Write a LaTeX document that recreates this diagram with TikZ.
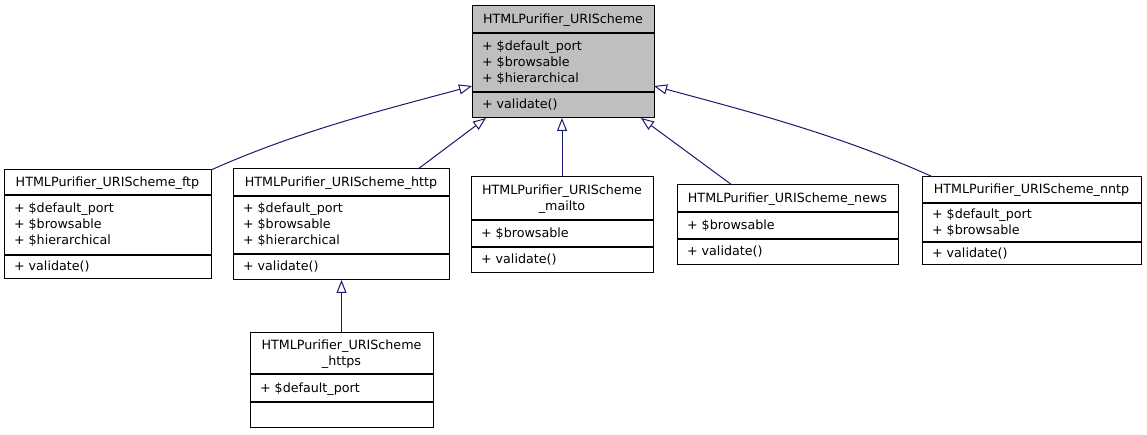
\documentclass[tikz,border=0pt]{standalone}
\usepackage{fontspec}
\setmainfont{DejaVu Sans}
\usetikzlibrary{arrows.meta}
\definecolor{edgeblue}{HTML}{191970}
\definecolor{basegray}{HTML}{BFBFBF}
\tikzset{
  classbox/.style={draw=black, line width=1pt, inner sep=0pt, outer sep=0pt, anchor=north west, fill=white},
  divider/.style={draw=black, line width=1.5pt},
  txt/.style={inner sep=0pt, outer sep=0pt, font=\fontsize{12.7pt}{16pt}\selectfont, text=black},
  inherit/.style={draw=edgeblue, line width=1pt, -{Triangle[fill=white, length=13pt, width=10pt]}},
}
\begin{document}
\begin{tikzpicture}[x=1pt, y=-1pt]
\useasboundingbox (0,0) rectangle (1147,435);

% base class
\node[classbox, fill=basegray, minimum width=182pt, minimum height=112pt] (base) at (472,6) {};
\draw[divider] ([yshift=-27pt]base.north west) -- ([yshift=-27pt]base.north east);
\draw[divider] ([yshift=-86pt]base.north west) -- ([yshift=-86pt]base.north east);
\node[txt, anchor=base] (base-t) at ([yshift=-18pt]base.north) {HTMLPurifier\_URIScheme};
\node[txt, anchor=base west] (base-a1) at ([xshift=10pt,yshift=-45pt]base.north west) {+ \$default\_port};
\node[txt, anchor=base west] (base-a2) at ([xshift=10pt,yshift=-61pt]base.north west) {+ \$browsable};
\node[txt, anchor=base west] (base-a3) at ([xshift=10pt,yshift=-77pt]base.north west) {+ \$hierarchical};
\node[txt, anchor=base west] (base-m1) at ([xshift=10pt,yshift=-103pt]base.north west) {+ validate()};

% ftp
\node[classbox, minimum width=207pt, minimum height=109pt] (ftp) at (4,170) {};
\draw[divider] ([yshift=-25pt]ftp.north west) -- ([yshift=-25pt]ftp.north east);
\draw[divider] ([yshift=-85pt]ftp.north west) -- ([yshift=-85pt]ftp.north east);
\node[txt, anchor=base] (ftp-t) at ([yshift=-17pt]ftp.north) {HTMLPurifier\_URIScheme\_ftp};
\node[txt, anchor=base west] (ftp-a1) at ([xshift=10pt,yshift=-43pt]ftp.north west) {+ \$default\_port};
\node[txt, anchor=base west] (ftp-a2) at ([xshift=10pt,yshift=-59pt]ftp.north west) {+ \$browsable};
\node[txt, anchor=base west] (ftp-a3) at ([xshift=10pt,yshift=-75pt]ftp.north west) {+ \$hierarchical};
\node[txt, anchor=base west] (ftp-m1) at ([xshift=10pt,yshift=-101pt]ftp.north west) {+ validate()};

% http
\node[classbox, minimum width=216pt, minimum height=111pt] (http) at (233,169) {};
\draw[divider] ([yshift=-27pt]http.north west) -- ([yshift=-27pt]http.north east);
\draw[divider] ([yshift=-85pt]http.north west) -- ([yshift=-85pt]http.north east);
\node[txt, anchor=base] (http-t) at ([yshift=-18pt]http.north) {HTMLPurifier\_URIScheme\_http};
\node[txt, anchor=base west] (http-a1) at ([xshift=10pt,yshift=-44pt]http.north west) {+ \$default\_port};
\node[txt, anchor=base west] (http-a2) at ([xshift=10pt,yshift=-60pt]http.north west) {+ \$browsable};
\node[txt, anchor=base west] (http-a3) at ([xshift=10pt,yshift=-76pt]http.north west) {+ \$hierarchical};
\node[txt, anchor=base west] (http-m1) at ([xshift=10pt,yshift=-102pt]http.north west) {+ validate()};

% mailto
\node[classbox, minimum width=182pt, minimum height=96pt] (mailto) at (471,177) {};
\draw[divider] ([yshift=-43pt]mailto.north west) -- ([yshift=-43pt]mailto.north east);
\draw[divider] ([yshift=-70pt]mailto.north west) -- ([yshift=-70pt]mailto.north east);
\node[txt, anchor=base] (mailto-t1) at ([yshift=-18pt]mailto.north) {HTMLPurifier\_URIScheme};
\node[txt, anchor=base] (mailto-t2) at ([yshift=-34pt]mailto.north) {\_mailto};
\node[txt, anchor=base west] (mailto-a1) at ([xshift=10pt,yshift=-61pt]mailto.north west) {+ \$browsable};
\node[txt, anchor=base west] (mailto-m1) at ([xshift=10pt,yshift=-87pt]mailto.north west) {+ validate()};

% news
\node[classbox, minimum width=221pt, minimum height=80pt] (news) at (677,185) {};
\draw[divider] ([yshift=-27pt]news.north west) -- ([yshift=-27pt]news.north east);
\draw[divider] ([yshift=-54pt]news.north west) -- ([yshift=-54pt]news.north east);
\node[txt, anchor=base] (news-t) at ([yshift=-18pt]news.north) {HTMLPurifier\_URIScheme\_news};
\node[txt, anchor=base west] (news-a1) at ([xshift=10pt,yshift=-45pt]news.north west) {+ \$browsable};
\node[txt, anchor=base west] (news-m1) at ([xshift=10pt,yshift=-71pt]news.north west) {+ validate()};

% nntp
\node[classbox, minimum width=219pt, minimum height=88pt] (nntp) at (922,177) {};
\draw[divider] ([yshift=-26pt]nntp.north west) -- ([yshift=-26pt]nntp.north east);
\draw[divider] ([yshift=-65pt]nntp.north west) -- ([yshift=-65pt]nntp.north east);
\node[txt, anchor=base] (nntp-t) at ([yshift=-17pt]nntp.north) {HTMLPurifier\_URIScheme\_nntp};
\node[txt, anchor=base west] (nntp-a1) at ([xshift=10pt,yshift=-42pt]nntp.north west) {+ \$default\_port};
\node[txt, anchor=base west] (nntp-a2) at ([xshift=10pt,yshift=-58pt]nntp.north west) {+ \$browsable};
\node[txt, anchor=base west] (nntp-m1) at ([xshift=10pt,yshift=-81pt]nntp.north west) {+ validate()};

% https
\node[classbox, minimum width=183pt, minimum height=95pt] (https) at (250,332) {};
\draw[divider] ([yshift=-42pt]https.north west) -- ([yshift=-42pt]https.north east);
\draw[divider] ([yshift=-70pt]https.north west) -- ([yshift=-70pt]https.north east);
\node[txt, anchor=base] (https-t1) at ([yshift=-17pt]https.north) {HTMLPurifier\_URIScheme};
\node[txt, anchor=base] (https-t2) at ([yshift=-33pt]https.north) {\_https};
\node[txt, anchor=base west] (https-a1) at ([xshift=10pt,yshift=-60pt]https.north west) {+ \$default\_port};

% inheritance edges
\draw[inherit] (ftp.north east) .. controls +(87,-39) and +(-87,23.5) .. ([yshift=-80pt]base.north west);
\draw[inherit] ([xshift=-31pt]http.north east) -- ([xshift=14pt]base.south west);
\draw[inherit] (mailto.north) -- (mailto.north |- base.south);
\draw[inherit] ([xshift=55pt]news.north west) -- ([xshift=-13pt]base.south east);
\draw[inherit] ([xshift=11pt]nntp.north west) .. controls +(-93,-42) and +(93,25) .. ([yshift=-80pt]base.north east);
\draw[inherit] (https.north) -- (https.north |- http.south);
\end{tikzpicture}
\end{document}
